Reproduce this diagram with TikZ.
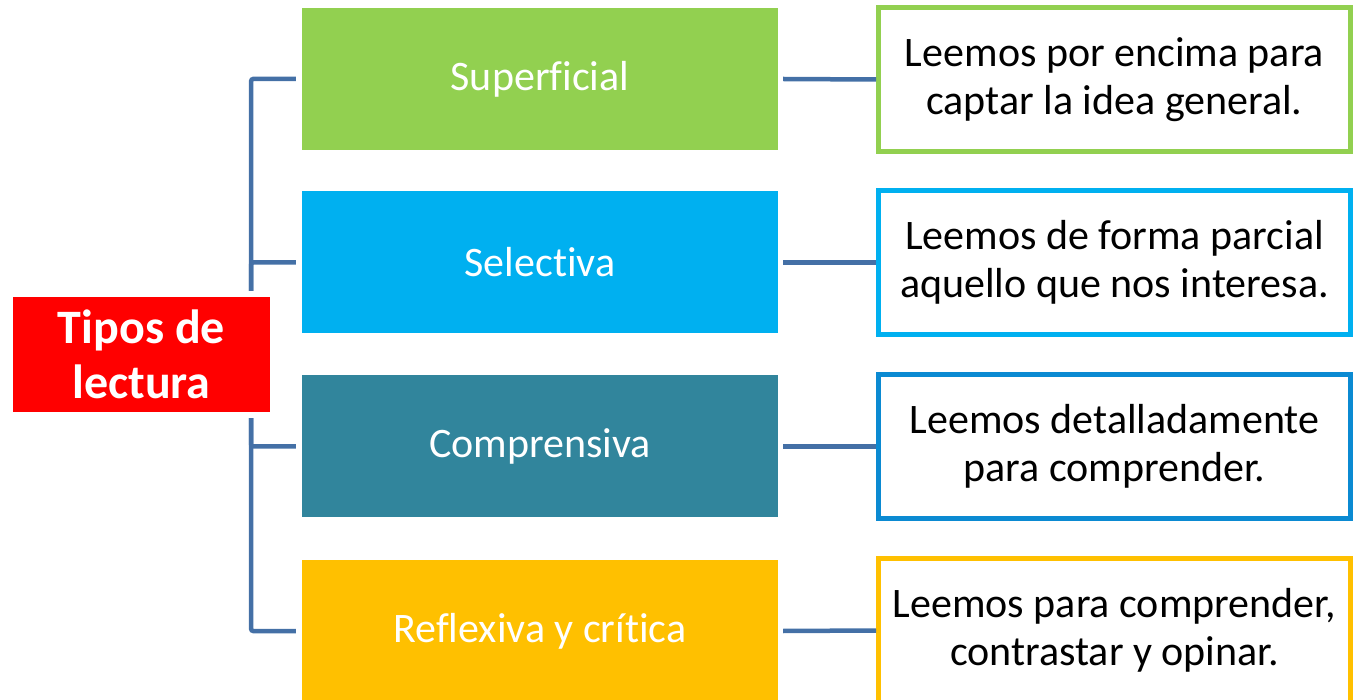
\documentclass[tikz,border=0pt]{standalone}
\usepackage{fontspec}
\setmainfont{Carlito}[Ligatures={NoCommon,NoContextual}]
\usepackage{xcolor}
\usepackage{tikz}
\usetikzlibrary{calc}
\definecolor{verde}{HTML}{92D050}
\definecolor{celeste}{HTML}{00B0F0}
\definecolor{petroleo}{HTML}{31859C}
\definecolor{ambar}{HTML}{FFC000}
\definecolor{azul}{HTML}{0B8AD2}
\definecolor{rojo}{HTML}{FF0000}
\definecolor{enlace}{HTML}{4470A6}
\tikzset{
  raiz/.style={fill=rojo, text=white, font=\fontsize{48}{55}\selectfont\bfseries, align=center, minimum width=257pt, minimum height=115pt, inner sep=0pt},
  tipo/.style={fill=#1, text=white, font=\fontsize{42}{50}\selectfont, minimum width=476pt, minimum height=142pt, inner sep=0pt},
  desc/.style={draw=#1, fill=white, line width=5pt, font=\fontsize{42}{48}\selectfont, align=center, minimum width=472pt, minimum height=144pt, inner sep=0pt},
  link/.style={draw=enlace, line width=4.5pt, rounded corners=2pt}
}

\begin{document}
\begin{tikzpicture}[x=1pt, y=-1pt]
  \useasboundingbox (0,0) rectangle (1353,700);

  \node[raiz] (tipos) at (141.5,354.5) {Tipos de\\lectura};

  \node[tipo=verde] (sup) at (540,79) {Superficial};
  \node[tipo=celeste] (sel) at (540,262.5) {Selectiva};
  \node[tipo=petroleo] (com) at (540,446.5) {Comprensiva};
  \node[tipo=ambar] (ref) at (540,631) {Reflexiva y crítica};

  \node[desc=verde] (supd) at (1114.5,79.5) {Leemos por encima para\\captar la idea general.};
  \node[desc=celeste] (seld) at (1114.5,262.5) {Leemos de forma parcial\\aquello que nos interesa.};
  \node[desc=azul] (comd) at (1114.5,446.5) {Leemos detalladamente\\para comprender.};
  \node[desc=ambar] (refd) at (1114.5,630.5) {Leemos para comprender,\\contrastar y opinar.};

  \coordinate (tr) at ([xshift=-19pt]tipos.north east);
  \coordinate (br) at ([xshift=-19pt]tipos.south east);

  \draw[link] ([yshift=6pt]tr) |- ([xshift=-6pt]sup.west);
  \draw[link] ([yshift=6pt]tr) |- ([xshift=-6pt]sel.west);
  \draw[link] ([yshift=-6pt]br) |- ([xshift=-6pt]com.west);
  \draw[link] ([yshift=-6pt]br) |- ([xshift=-6pt]ref.west);

  \draw[link] ([xshift=5pt]sup.east) -- (supd.west);
  \draw[link] ([xshift=5pt]sel.east) -- (seld.west);
  \draw[link] ([xshift=5pt]com.east) -- (comd.west);
  \draw[link] ([xshift=5pt]ref.east) -- (refd.west);
\end{tikzpicture}
\end{document}
